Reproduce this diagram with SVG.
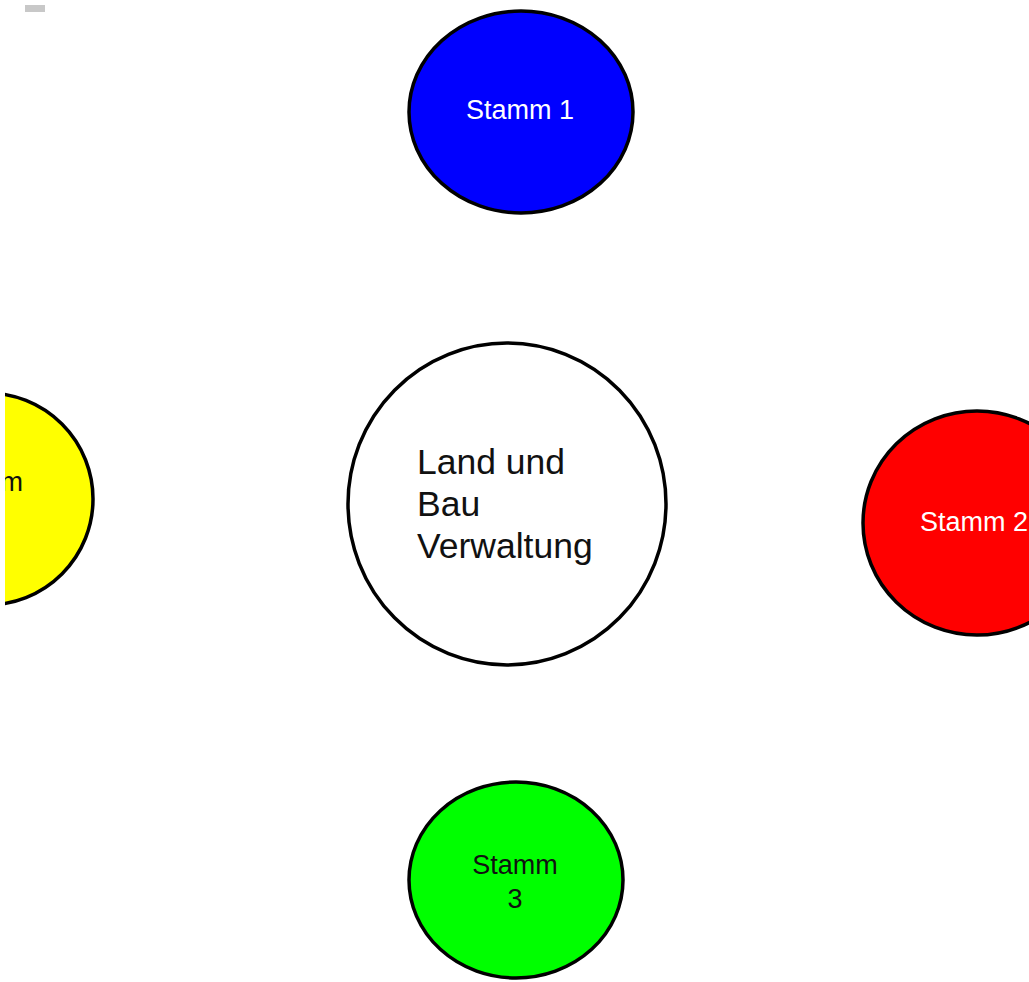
<svg xmlns="http://www.w3.org/2000/svg" width="1029" height="982" viewBox="0 0 1029 982">
<style>
.n{stroke:#000;stroke-width:3.5}
.t{font-family:"Liberation Sans",Arial,sans-serif;font-size:27px}
.c{font-family:"Liberation Sans",Arial,sans-serif;font-size:35.5px;fill:#111}
</style>
<defs><clipPath id="clip"><rect x="5" y="0" width="1024" height="982"/></clipPath></defs>
<rect x="0" y="0" width="1029" height="982" fill="#fff"/>
<rect x="25" y="5" width="20" height="7" fill="#c8c8c8"/>
<g id="connectors"></g>
<g clip-path="url(#clip)">
<g id="stamm1">
<ellipse class="n" cx="521" cy="112" rx="112" ry="101" fill="#0000ff"/>
<text class="t" x="520" y="119" text-anchor="middle" fill="#fff">Stamm 1</text>
</g>
<g id="stamm2">
<ellipse class="n" cx="977" cy="523" rx="114" ry="112" fill="#ff0000"/>
<text class="t" x="920" y="531" fill="#fff">Stamm 2</text>
</g>
<g id="stamm3">
<ellipse class="n" cx="516" cy="880" rx="107" ry="98" fill="#00ff00"/>
<text class="t" x="515" y="874" text-anchor="middle" fill="#111" font-size="28">Stamm</text>
<text class="t" x="515" y="908" text-anchor="middle" fill="#111" font-size="28">3</text>
</g>
<g id="stamm4">
<ellipse class="n" cx="-13" cy="499" rx="106" ry="106" fill="#ffff00"/>
<text class="t" x="23" y="491" text-anchor="end" fill="#111">m</text>
</g>
<g id="center">
<ellipse class="n" cx="507" cy="504" rx="159" ry="161" fill="#fff"/>
<text class="c" x="417" y="474">Land und</text>
<text class="c" x="417" y="516">Bau</text>
<text class="c" x="417" y="558">Verwaltung</text>
</g>
</g>
</svg>
